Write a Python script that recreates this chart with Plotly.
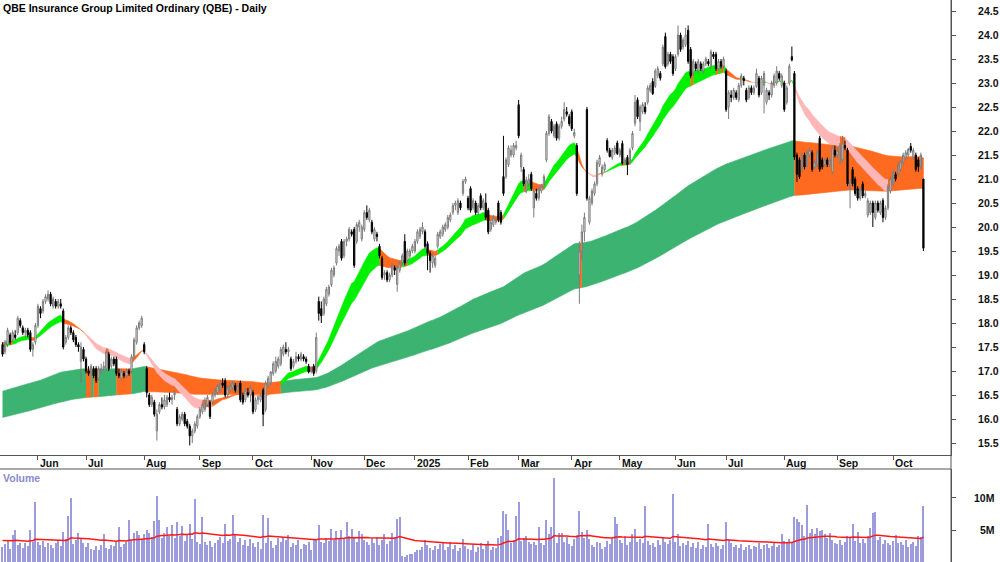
import pandas as pd
import plotly.graph_objects as go

# ---------------- data ----------------
TITLE = "QBE Insurance Group Limited Ordinary (QBE) - Daily"
START, END = "2024-05-14", "2025-10-17"
HOLIDAYS = ["2024-06-10", "2024-12-25", "2024-12-26", "2025-01-01", "2025-01-27",
            "2025-04-18", "2025-04-21", "2025-04-25", "2025-06-09"]

opens = [
    17.55,17.4,17.55,17.75,17.65,17.75,17.8,18.05,17.9,17.8,
    17.85,17.8,17.45,17.6,17.95,18.3,18.25,18.45,18.5,18.6,
    18.35,18.45,18.35,18.4,18.25,17.6,17.7,17.9,17.8,17.7,
    17.55,17.2,17.45,17.25,17.0,16.95,17.05,17.05,16.85,17.0,
    17.05,17.05,17.35,17.1,17.25,17.25,16.95,16.85,16.95,16.9,
    17.0,17.0,17.3,17.6,17.9,17.95,17.55,17.05,16.5,16.3,
    16.35,15.75,16.15,16.3,16.25,16.3,16.45,16.4,16.5,16.2,
    15.9,16.0,16.1,15.95,15.85,15.65,15.75,15.85,16.05,16.15,
    16.2,16.3,16.35,16.35,16.5,16.55,16.6,16.75,16.8,16.5,
    16.6,16.65,16.7,16.6,16.75,16.5,16.4,16.55,16.5,16.55,
    16.2,16.4,16.4,16.6,16.2,16.7,16.75,16.95,17.0,17.1,
    17.15,17.35,17.45,17.4,17.25,17.1,17.2,17.3,17.25,17.3,
    17.25,17.1,17.0,17.1,17.0,18.45,18.3,18.2,18.4,18.6,
    18.8,19.0,19.25,19.5,19.7,19.4,19.7,19.75,19.9,19.95,
    19.7,20.0,19.75,19.95,20.3,20.15,20.1,19.75,19.85,19.6,
    19.35,19.0,19.05,18.9,19.0,19.15,18.8,19.1,19.25,19.7,
    19.3,19.4,19.5,19.5,19.7,19.8,19.9,19.9,19.65,19.45,
    19.25,19.2,19.6,19.8,19.85,19.95,20.0,20.15,20.3,20.45,
    20.3,20.5,20.7,20.95,20.6,20.8,20.4,20.5,20.3,20.65,
    20.4,20.5,20.35,19.95,20.05,20.1,20.5,20.3,21.05,21.05,
    21.3,21.5,21.5,21.65,22.55,21.25,21.2,20.75,20.9,21.1,
    20.4,20.7,20.6,20.75,20.85,21.4,21.95,22.2,21.9,22.15,
    21.85,22.1,22.25,22.4,22.3,22.4,21.9,21.7,19.0,19.5,
    19.9,22.45,20.1,20.5,20.7,20.9,21.3,21.1,21.2,21.8,
    21.6,21.45,21.55,21.75,21.5,21.74,21.35,21.45,21.35,21.65,
    22.16,22.65,22.2,22.4,22.5,22.6,22.85,23.03,22.93,23.15,
    23.2,23.4,23.97,23.4,23.6,23.55,23.3,23.6,24.0,23.75,
    23.8,24.1,23.7,23.2,23.4,23.25,23.4,23.25,23.4,23.45,
    23.35,23.6,23.6,23.3,23.45,23.35,23.25,22.5,22.75,22.7,
    22.8,22.65,22.95,23.1,22.85,22.7,22.9,22.8,22.93,23.1,
    22.8,22.95,22.6,22.8,22.75,22.95,23.0,23.2,22.95,23.0,
    22.6,23.0,23.55,23.2,21.5,21.4,21.2,21.5,21.3,21.5,
    21.55,21.25,21.3,21.85,21.4,21.3,21.4,21.3,21.15,21.6,
    21.5,21.35,21.4,21.7,21.6,20.8,21.2,21.0,20.8,20.6,
    20.9,20.65,20.25,20.3,20.5,20.2,20.5,20.3,20.55,20.2,
    20.4,20.75,20.9,21.1,21.1,21.2,21.35,21.45,21.5,21.68,
    21.45,21.5,21.4,21.25,21.0,
]
highs = [
    17.6,17.65,17.9,17.8,17.85,17.85,18.15,18.1,17.95,17.9,
    17.9,17.85,17.6,18.0,18.4,18.35,18.5,18.6,18.68,18.65,
    18.55,18.5,18.5,18.5,18.3,17.75,17.95,17.95,17.85,17.75,
    17.6,17.6,17.5,17.3,17.1,17.15,17.1,17.1,17.1,17.15,
    17.2,17.45,17.4,17.3,17.3,17.3,17.05,17.05,17.0,17.05,
    17.05,17.35,17.7,17.95,18.05,18.15,17.6,17.1,16.55,16.5,
    16.4,16.2,16.35,16.45,16.5,16.5,16.55,16.5,16.6,16.25,
    16.1,16.15,16.15,16.0,15.9,15.8,15.95,16.1,16.25,16.35,
    16.45,16.5,16.4,16.55,16.65,16.72,16.8,16.85,16.85,16.7,
    16.75,16.8,16.75,16.75,16.8,16.55,16.65,16.65,16.7,16.6,
    16.45,16.5,16.55,16.65,16.8,16.9,17.0,17.2,17.3,17.3,
    17.5,17.55,17.6,17.5,17.3,17.25,17.4,17.35,17.4,17.35,
    17.3,17.15,17.1,17.15,17.8,18.55,18.45,18.55,18.75,18.8,
    19.15,19.2,19.6,19.65,19.75,19.75,19.8,20.0,19.95,20.0,
    20.1,20.15,20.05,20.35,20.45,20.4,20.15,20.0,19.9,19.65,
    19.4,19.1,19.1,19.05,19.25,19.2,19.2,19.3,19.45,19.85,
    19.55,19.55,19.65,19.75,19.95,20.0,20.1,19.95,19.7,19.5,
    19.45,19.4,19.9,19.95,20.05,20.1,20.25,20.3,20.5,20.55,
    20.6,20.55,21.0,21.05,20.65,20.85,20.6,20.55,20.5,20.7,
    20.6,20.7,20.4,20.15,20.25,20.2,20.55,20.35,21.9,21.45,
    21.7,21.7,21.75,21.8,22.65,21.55,21.25,21.05,21.1,21.15,
    20.8,20.8,20.85,20.9,21.1,22.0,22.35,22.25,22.15,22.2,
    22.15,22.3,22.6,22.5,22.35,22.45,22.05,21.75,19.7,20.05,
    20.3,22.5,20.65,20.8,20.95,21.4,21.5,21.3,21.35,21.85,
    21.65,21.65,21.7,21.8,21.65,21.8,21.45,21.5,21.65,22.0,
    22.75,22.7,22.55,22.6,22.6,22.95,23.0,23.1,23.3,23.35,
    23.25,23.8,24.05,23.65,23.65,23.6,23.6,24.2,24.05,23.95,
    24.15,24.2,23.75,23.5,23.45,23.5,23.45,23.45,23.55,23.5,
    23.7,23.65,23.65,23.5,23.5,23.55,23.3,22.85,22.85,22.9,
    22.85,23.0,23.2,23.15,22.9,22.95,22.95,22.95,23.3,23.15,
    23.15,23.25,22.9,22.85,23.05,23.2,23.35,23.25,23.2,23.05,
    22.95,23.4,23.76,23.25,21.55,21.45,21.55,21.55,21.6,21.65,
    21.6,21.4,21.6,21.9,21.45,21.45,21.45,21.45,21.7,21.7,
    21.65,21.75,21.9,21.8,21.65,21.0,21.25,21.05,20.85,20.85,
    20.95,20.75,20.6,20.55,20.55,20.55,20.55,20.55,20.6,20.45,
    20.9,21.05,21.2,21.15,21.35,21.4,21.55,21.6,21.65,21.75,
    21.65,21.55,21.45,21.55,21.0,
]
lows = [
    17.3,17.35,17.5,17.55,17.6,17.65,17.75,17.9,17.75,17.7,
    17.7,17.4,17.3,17.55,17.9,18.1,18.2,18.4,18.45,18.35,
    18.3,18.3,18.3,18.3,17.45,17.55,17.65,17.75,17.6,17.5,
    17.4,16.75,17.2,16.95,16.9,16.9,16.85,16.75,16.8,16.95,
    17.0,17.0,17.0,17.05,17.1,16.9,16.85,16.8,16.85,16.85,
    16.9,16.95,17.25,17.55,17.85,17.9,17.35,16.45,16.25,16.25,
    16.05,15.55,16.1,16.2,16.2,16.25,16.35,16.3,16.4,15.85,
    15.85,15.95,15.85,15.8,15.45,15.5,15.7,15.8,16.0,16.1,
    16.15,16.25,16.0,16.3,16.45,16.5,16.55,16.65,16.45,16.45,
    16.55,16.6,16.55,16.55,16.35,16.3,16.35,16.45,16.35,16.1,
    16.15,16.3,16.35,15.85,16.15,16.65,16.7,16.9,16.95,17.05,
    17.1,17.3,17.35,17.3,17.0,17.05,17.15,17.2,17.2,17.2,
    17.15,16.95,16.95,16.9,16.95,18.05,18.0,18.15,18.35,18.55,
    18.75,18.95,19.2,19.4,19.3,19.35,19.6,19.7,19.8,19.15,
    19.65,19.9,19.7,19.9,20.15,20.1,19.85,19.7,19.7,19.35,
    18.9,18.9,18.85,18.85,18.95,19.0,18.65,19.05,19.2,19.2,
    19.25,19.35,19.45,19.45,19.65,19.75,19.85,19.55,19.1,19.05,
    19.15,19.15,19.55,19.75,19.8,19.9,19.95,20.1,20.25,20.35,
    20.25,20.35,20.65,20.9,20.35,20.3,20.35,20.25,20.25,20.35,
    20.35,20.15,19.85,19.9,20.0,20.05,20.1,20.05,20.65,21.0,
    21.25,21.45,21.45,21.6,21.85,21.15,20.85,20.7,20.85,20.75,
    20.2,20.55,20.55,20.7,20.8,21.35,21.9,21.95,21.85,21.8,
    21.8,22.05,22.2,22.3,22.1,22.0,21.85,20.65,18.4,19.3,
    19.7,20.55,20.05,20.45,20.65,20.85,21.25,21.05,21.15,21.55,
    21.45,21.4,21.5,21.5,21.45,21.3,21.3,21.08,21.3,21.6,
    22.1,22.25,22.0,22.35,22.35,22.55,22.8,22.75,22.9,23.1,
    23.05,23.35,23.3,23.35,23.4,23.15,23.25,23.55,23.65,23.7,
    23.75,23.4,23.1,23.15,23.25,23.2,23.25,23.2,23.35,23.35,
    23.3,23.5,23.25,23.25,23.3,23.3,22.4,22.25,22.6,22.65,
    22.65,22.6,22.9,22.95,22.6,22.65,22.75,22.75,22.9,22.7,
    22.75,22.37,22.55,22.65,22.7,22.9,22.95,23.05,22.9,22.4,
    22.55,22.95,23.45,21.4,20.94,21.0,21.15,21.2,21.25,21.45,
    21.15,21.2,21.25,21.15,21.2,21.25,21.25,21.25,21.1,21.45,
    21.45,21.3,21.35,21.6,20.85,20.39,20.85,20.65,20.55,20.55,
    20.6,20.6,20.2,20.25,20.0,20.15,20.3,20.25,20.1,20.15,
    20.35,20.7,20.85,20.95,21.05,21.15,21.3,21.4,21.45,21.55,
    21.4,21.15,21.15,21.2,19.5,
]
closes = [
    17.35,17.6,17.85,17.6,17.8,17.7,18.1,17.95,17.8,17.85,
    17.75,17.45,17.55,17.95,18.35,18.2,18.45,18.55,18.6,18.4,
    18.5,18.35,18.45,18.35,17.5,17.7,17.9,17.8,17.65,17.55,
    17.5,17.5,17.25,17.0,16.95,17.1,16.9,16.8,17.05,17.05,
    17.1,17.4,17.05,17.25,17.15,16.95,16.9,17.0,16.9,17.0,
    16.95,17.3,17.65,17.9,18.0,18.1,17.4,16.55,16.3,16.45,
    16.1,16.1,16.3,16.25,16.4,16.45,16.4,16.45,16.55,15.9,
    16.05,16.1,15.9,15.85,15.65,15.75,15.9,16.05,16.2,16.3,
    16.35,16.45,16.05,16.5,16.6,16.7,16.75,16.7,16.5,16.65,
    16.7,16.75,16.6,16.7,16.4,16.35,16.6,16.5,16.65,16.15,
    16.4,16.45,16.5,16.1,16.75,16.85,16.98,17.15,17.2,17.25,
    17.45,17.5,17.4,17.45,17.05,17.2,17.3,17.25,17.35,17.25,
    17.2,16.98,17.05,16.95,17.7,18.2,18.15,18.5,18.7,18.75,
    19.1,19.15,19.55,19.6,19.35,19.7,19.75,19.95,19.85,19.2,
    20.05,20.1,20.0,20.3,20.2,20.35,19.9,19.95,19.8,19.4,
    18.95,19.05,18.9,19.0,19.2,19.1,19.15,19.25,19.4,19.25,
    19.5,19.5,19.6,19.7,19.9,19.95,20.0,19.6,19.45,19.3,
    19.4,19.35,19.85,19.9,20.0,20.05,20.2,20.25,20.45,20.5,
    20.55,20.4,20.95,21.0,20.4,20.35,20.55,20.3,20.45,20.4,
    20.55,20.2,19.9,20.1,20.2,20.15,20.15,20.1,20.7,21.4,
    21.65,21.6,21.7,21.7,21.9,21.5,20.9,20.98,21.0,20.8,
    20.75,20.6,20.8,20.85,21.05,21.95,22.3,22.0,22.1,21.85,
    22.1,22.2,22.45,22.35,22.15,22.05,21.97,20.7,19.5,19.9,
    20.2,20.6,20.6,20.75,20.9,21.35,21.45,21.25,21.3,21.6,
    21.47,21.6,21.65,21.53,21.6,21.33,21.4,21.3,21.6,21.95,
    22.6,22.3,22.5,22.55,22.4,22.9,22.95,22.78,23.25,23.3,
    23.1,23.75,23.34,23.6,23.45,23.2,23.55,24.0,23.7,23.9,
    24.0,23.45,23.15,23.45,23.3,23.45,23.3,23.4,23.5,23.4,
    23.65,23.55,23.3,23.45,23.35,23.5,22.45,22.8,22.7,22.85,
    22.7,22.95,23.15,23.05,22.65,22.9,22.8,22.9,23.2,22.75,
    23.1,23.2,22.85,22.75,23.0,23.15,23.25,23.1,23.15,22.45,
    22.9,23.35,23.48,21.46,21.1,21.05,21.5,21.25,21.55,21.6,
    21.2,21.35,21.55,21.2,21.25,21.4,21.3,21.4,21.65,21.5,
    21.6,21.7,21.75,21.65,20.9,20.95,20.9,20.7,20.6,20.8,
    20.65,20.7,20.55,20.5,20.3,20.5,20.35,20.5,20.2,20.4,
    20.85,21.0,21.15,21.0,21.3,21.36,21.5,21.55,21.62,21.6,
    21.6,21.2,21.25,21.5,19.56,
]
volumes_m = [
    2.4,2.8,3.3,2.1,4.2,5.0,2.6,2.9,2.2,3.0,
    2.5,5.0,3.2,9.3,3.1,2.7,3.3,2.4,3.0,2.6,
    2.2,2.9,3.4,2.5,4.7,3.6,7.2,10.0,2.8,3.5,
    4.6,3.8,3.0,2.4,2.9,2.0,1.8,2.5,1.9,2.6,
    4.4,2.2,2.0,2.7,2.5,3.1,5.4,2.3,2.8,3.2,
    6.6,3.4,4.5,4.8,4.2,3.6,4.4,5.0,4.6,3.9,
    6.4,10.3,6.6,3.8,4.6,5.5,4.0,5.8,3.7,6.3,
    4.1,5.6,3.3,4.4,6.0,3.6,9.8,3.2,2.8,7.0,
    3.1,2.6,3.3,2.4,2.9,3.5,3.9,3.0,6.0,3.3,
    3.6,7.4,4.2,3.1,3.8,2.7,3.4,2.5,3.6,2.9,
    2.4,3.2,2.1,7.4,3.0,6.8,3.3,2.2,2.6,3.7,
    3.2,3.9,3.4,4.2,2.3,3.0,2.6,3.5,2.0,2.8,
    2.7,3.1,1.9,3.4,3.6,5.8,3.2,2.9,3.7,3.3,
    5.1,3.4,4.8,3.8,5.0,3.6,6.3,4.1,5.2,3.7,
    3.2,4.9,4.3,3.4,3.1,2.6,3.8,3.0,3.9,2.7,
    3.5,4.3,2.8,3.3,4.5,3.9,6.7,7.1,1.0,0.8,
    1.1,1.3,1.2,1.5,1.9,1.8,2.3,3.5,2.6,2.2,
    1.9,2.5,2.1,2.8,3.0,1.8,2.4,3.2,2.0,2.6,
    1.7,2.2,3.6,2.5,2.1,1.9,2.8,1.6,2.3,3.0,
    2.1,2.6,3.3,1.8,2.4,2.2,3.8,4.1,8.0,7.5,
    5.0,3.0,3.5,7.2,9.3,3.3,3.7,4.0,3.1,2.8,
    3.2,2.6,5.5,3.0,2.7,6.6,4.4,5.5,13.2,2.9,
    4.5,4.6,3.1,3.9,2.8,2.5,3.6,4.2,7.9,4.7,
    3.8,5.0,3.6,2.6,2.3,3.2,2.9,2.1,2.4,3.3,
    2.8,3.7,7.1,6.0,3.4,3.0,4.1,2.6,3.2,4.4,
    5.2,3.1,3.6,2.9,8.8,3.3,2.7,3.0,2.4,3.5,
    2.6,3.9,3.1,2.8,3.4,10.7,3.2,4.4,2.5,3.0,
    2.7,3.3,2.4,2.9,2.2,3.1,2.0,2.6,2.3,5.9,
    2.8,2.4,3.0,2.5,2.1,2.7,6.2,3.4,2.9,2.3,
    2.6,2.2,2.8,1.9,2.4,2.7,2.1,2.5,2.3,2.9,
    2.0,2.6,2.8,2.2,2.5,3.0,2.4,2.7,4.4,3.3,
    2.9,3.6,3.2,7.1,6.7,6.3,5.8,4.0,8.9,4.6,
    5.1,4.3,5.3,4.9,5.0,4.4,3.8,4.6,3.4,3.0,
    2.8,3.5,2.6,3.2,4.1,3.7,5.9,3.3,4.7,3.0,
    3.6,2.9,4.0,5.3,7.7,7.8,3.4,3.9,2.8,3.5,
    3.0,2.7,3.3,4.2,2.9,3.1,2.6,3.5,2.4,2.8,
    3.2,2.5,4.0,3.9,8.75,
]

# indicator settings; seeds are the band levels read at the first bar
ema_periods = {"short_fast": 20, "short_slow": 30, "long_fast": 150, "long_slow": 260}
ema_seeds = {"short_fast": 17.62, "short_slow": 17.52, "long_fast": 16.57, "long_slow": 16.02}
vol_ma_period = 50
vol_ma_seed = 3.4

price_ticks = [15.5, 16.0, 16.5, 17.0, 17.5, 18.0, 18.5, 19.0, 19.5, 20.0,
               20.5, 21.0, 21.5, 22.0, 22.5, 23.0, 23.5, 24.0, 24.5]
volume_ticks = [5, 10]
volume_tick_text = ["5M", "10M"]

# ---------------- styles ----------------
C_LONG_UP = "#3cb371"
C_SHORT_UP = "#00f000"
C_MIXED = "#ff6a21"
C_DOWN = "#ffb6b6"
C_AXIS = "#555555"
C_VOL = "#9c9cdc"
FONT = "Liberation Sans, Arial, sans-serif"
H = 562
P_BOTTOM_PX, V_TOP_PX = 455, 469

# ---------------- computation ----------------
n = min(len(opens), len(highs), len(lows), len(closes), len(volumes_m))
all_days = pd.bdate_range(START, END)
dates = [d for d in all_days if d.strftime("%Y-%m-%d") not in HOLIDAYS][:n]
n = min(n, len(dates))
idx = list(range(n))


def ema(values, period, seed):
    a = 2.0 / (period + 1)
    out, e = [], seed
    for v in values:
        e = e + a * (v - e)
        out.append(e)
    return out


cl = closes[:n]
sf = ema(cl, ema_periods["short_fast"], ema_seeds["short_fast"])
ss = ema(cl, ema_periods["short_slow"], ema_seeds["short_slow"])
lf = ema(cl, ema_periods["long_fast"], ema_seeds["long_fast"])
ls = ema(cl, ema_periods["long_slow"], ema_seeds["long_slow"])
vol_ma = ema(volumes_m[:n], vol_ma_period, vol_ma_seed)

long_col, short_col = [], []
for k in idx:
    c = cl[k]
    long_col.append(C_LONG_UP if (c > lf[k] and sf[k] > lf[k] and lf[k] > ls[k]) else C_MIXED)
    if sf[k] > ss[k] and c > sf[k] and sf[k] > lf[k]:
        short_col.append(C_SHORT_UP)
    elif sf[k] < ss[k] and c < sf[k]:
        short_col.append(C_DOWN)
    else:
        short_col.append(C_MIXED)


def band_traces(upper, lower, colors):
    out = []
    a = 0
    while a < n:
        b = a
        while b + 1 < n and colors[b + 1] == colors[a]:
            b += 1
        end = min(b + 1, n - 1)
        xs = list(range(a, end + 1))
        if len(xs) == 1:
            xs = [a, a]
        xp = xs + xs[::-1]
        yp = [upper[k] for k in xs] + [lower[k] for k in xs[::-1]]
        out.append(go.Scatter(x=xp, y=yp, mode="lines", fill="toself",
                              fillcolor=colors[a], line=dict(color=colors[a], width=0.6),
                              hoverinfo="skip", showlegend=False, xaxis="x", yaxis="y"))
        a = b + 1
    return out


fig = go.Figure()
for t in band_traces(lf, ls, long_col):
    fig.add_trace(t)
for t in band_traces(sf, ss, short_col):
    fig.add_trace(t)

fig.add_trace(go.Candlestick(
    x=idx, open=opens[:n], high=highs[:n], low=lows[:n], close=cl,
    xaxis="x", yaxis="y3", whiskerwidth=0, hoverinfo="skip", showlegend=False,
    increasing=dict(fillcolor="white", line=dict(color="#7a7a7a", width=1)),
    decreasing=dict(fillcolor="black", line=dict(color="black", width=1)),
))

fig.add_trace(go.Bar(x=idx, y=volumes_m[:n], xaxis="x2", yaxis="y2", width=0.45,
                     marker=dict(color=C_VOL, line=dict(width=0)), hoverinfo="skip",
                     showlegend=False))
fig.add_trace(go.Scatter(x=idx, y=vol_ma, xaxis="x2", yaxis="y2", mode="lines",
                         line=dict(color="#ff1a1a", width=1.5), hoverinfo="skip",
                         showlegend=False))

# month ticks
month_idx, month_txt = [], []
for k in range(1, n):
    if dates[k].month != dates[k - 1].month:
        month_idx.append(k)
        month_txt.append(str(dates[k].year) if dates[k].month == 1 else dates[k].strftime("%b"))

annotations = []
for k, t in zip(month_idx, month_txt):
    annotations.append(dict(x=k, xref="x", y=(H - 463) / H, yref="paper", text="<b>%s</b>" % t,
                            showarrow=False, xanchor="left", yanchor="middle", xshift=0,
                            font=dict(family=FONT, size=10.5, color="#111111")))
annotations.append(dict(x=0, xref="paper", y=1, yref="paper", text="<b>%s</b>" % TITLE,
                        showarrow=False, xanchor="left", yanchor="top", xshift=1, yshift=0,
                        font=dict(family=FONT, size=10.5, color="#000000")))
annotations.append(dict(x=0, xref="paper", y=(H - 477.5) / H, yref="paper", text="<b>Volume</b>",
                        showarrow=False, xanchor="left", yanchor="middle", xshift=1,
                        font=dict(family=FONT, size=10.5, color="#8a8acc")))
VMAX = 14.53
v_bottom, v_top = 0.0, (H - V_TOP_PX) / H
for v, t in zip(volume_ticks, volume_tick_text):
    annotations.append(dict(x=997 / 951, xref="paper", y=v_bottom + (v_top - v_bottom) * v / VMAX,
                            yref="paper", text="<b>%s</b>" % t, showarrow=False,
                            xanchor="right", yanchor="middle",
                            font=dict(family=FONT, size=10.5, color="#111111")))

P_RANGE = [15.25, 24.73]
fig.update_layout(
    width=1000, height=H, autosize=False,
    margin=dict(l=0, r=49, t=0, b=0, pad=0),
    paper_bgcolor="white", plot_bgcolor="white", showlegend=False,
    barmode="overlay", bargap=0,
    xaxis=dict(domain=[0, 1], range=[-1, 374.9], anchor="y", showgrid=False, zeroline=False,
               showline=True, linecolor=C_AXIS, linewidth=1, ticks="outside", ticklen=4,
               tickcolor=C_AXIS, tickmode="array", tickvals=month_idx, showticklabels=False,
               rangeslider=dict(visible=False), fixedrange=True),
    xaxis2=dict(domain=[0, 1], matches="x", anchor="y2", showgrid=False, zeroline=False,
                showline=False, showticklabels=False, ticks=""),
    yaxis=dict(domain=[(H - P_BOTTOM_PX) / H, 1], range=P_RANGE, side="right", anchor="x",
               showgrid=False, zeroline=False, showline=True, linecolor=C_AXIS, linewidth=1,
               ticks="outside", ticklen=4, tickcolor=C_AXIS, tickmode="array",
               tickvals=price_ticks, ticktext=["%.1f" % v for v in price_ticks],
               ticklabelstandoff=20,
               tickfont=dict(family=FONT, size=10.5, color="#111111", weight="bold")),
    yaxis3=dict(overlaying="y", range=P_RANGE, anchor="x", side="right", visible=False),
    yaxis2=dict(domain=[v_bottom, v_top], range=[0, VMAX], side="right", anchor="x2",
                showgrid=False, zeroline=False, showline=True, linecolor=C_AXIS, linewidth=1,
                ticks="outside", ticklen=4, tickcolor=C_AXIS, tickmode="array",
                tickvals=volume_ticks, showticklabels=False),
    annotations=annotations,
    shapes=[
        dict(type="line", xref="paper", yref="paper", x0=1, x1=1, y0=0, y1=1,
             line=dict(color=C_AXIS, width=1)),
        dict(type="line", xref="paper", yref="paper", x0=0, x1=1, y0=v_top, y1=v_top,
             line=dict(color=C_AXIS, width=1)),
    ],
)

fig.write_html("out.html")
